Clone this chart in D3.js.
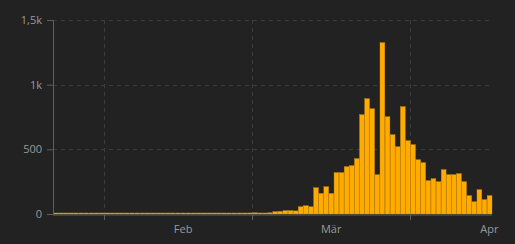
<!DOCTYPE html>
<html>
<head>
<meta charset="utf-8">
<script src="https://cdn.jsdelivr.net/npm/d3@7"></script>
<style>
  html, body { margin: 0; padding: 0; background: #222222; }
  svg { display: block; }
  text { font-family: "Open Sans", sans-serif; }
</style>
</head>
<body>
<svg id="chart"></svg>
<script>
// daily values, one per day starting at startDate
const startDate = new Date(Date.UTC(2020, 0, 22));
const dailyValues = [
    0, 0, 0, 0, 0, 0, 0, 0, 0, 0,
    0, 0, 0, 0, 0, 0, 0, 0, 0, 0,
    0, 0, 0, 0, 0, 0, 0, 0, 0, 0,
    0, 0, 0, 0, 2, 0, 1, 2, 8, 9,
    8, 2, 9, 18, 20, 26, 26, 24, 56, 64,
    56, 203, 159, 211, 159, 320, 320, 366, 374, 428,
    768, 892, 814, 304, 1325, 752, 613, 520, 830, 567,
    536, 420, 397, 258, 273, 250, 343, 304, 304, 312,
    250, 142, 95, 188, 111, 142
];
const yTicks = [0, 500, 1000, 1500];
const monthStarts = ["2020-02-01", "2020-03-01", "2020-04-01"];
const monthLabels = ["Feb", "Mär", "Apr"];

const width = 515, height = 244;
const margin = {top: 20, right: 23, bottom: 30, left: 53};

const data = dailyValues.map((v, i) => ({
    date: d3.utcDay.offset(startDate, i),
    value: v
}));
const endDate = d3.utcDay.offset(startDate, dailyValues.length);

const svg = d3.select("#chart")
    .attr("width", width)
    .attr("height", height);

const x = d3.scaleUtc()
    .domain([startDate, endDate])
    .range([margin.left, width - margin.right]);

const y = d3.scaleLinear()
    .domain([0, 1500])
    .range([height - margin.bottom, margin.top]);

const gridColor = "#3c3c3c";
const axisColor = "#5e5e5e";
const textColor = "#9a9a9a";

// horizontal grid
svg.append("g")
    .selectAll("line")
    .data(yTicks.filter(d => d > 0))
    .enter().append("line")
    .attr("x1", margin.left)
    .attr("x2", width - margin.right)
    .attr("y1", d => Math.round(y(d)) + 0.5)
    .attr("y2", d => Math.round(y(d)) + 0.5)
    .style("stroke", gridColor)
    .style("stroke-dasharray", "4,4");

// vertical grid at month starts
const monthDates = monthStarts.map(s => new Date(s + "T00:00:00Z"));
svg.append("g")
    .selectAll("line")
    .data(monthDates)
    .enter().append("line")
    .attr("x1", d => Math.round(x(d)) + 0.5)
    .attr("x2", d => Math.round(x(d)) + 0.5)
    .attr("y1", margin.top)
    .attr("y2", height - margin.bottom)
    .style("stroke", gridColor)
    .style("stroke-dasharray", "4,4");

// bars (keep at least 1px so empty days still show on the baseline)
svg.append("g")
    .selectAll("rect")
    .data(data)
    .enter().append("rect")
    .attr("x", d => x(d.date) + 0.3)
    .attr("width", d => x(d3.utcDay.offset(d.date, 1)) - x(d.date) - 0.3)
    .attr("y", d => Math.min(y(d.value), y(0) - 1))
    .attr("height", d => Math.max(1, y(0) - y(d.value)))
    .style("fill", "#ffab00")
    .style("stroke", "#d18c00")
    .style("stroke-width", 0.4);

// y axis
const yAxis = svg.append("g")
    .attr("transform", `translate(${margin.left},0)`)
    .call(d3.axisLeft(y)
        .tickValues(yTicks)
        .tickSize(6)
        .tickPadding(5)
        .tickFormat(d => d >= 1000 ? String(d / 1000).replace(".", ",") + "k" : d));
yAxis.select(".domain").style("stroke", axisColor);
yAxis.selectAll(".tick line").style("stroke", axisColor);
yAxis.selectAll("text").style("fill", textColor).style("font-size", "11px");

// x axis: ticks at month starts, labels centred in the month
const xAxis = svg.append("g")
    .attr("transform", `translate(0,${height - margin.bottom + 1})`);
xAxis.append("line")
    .attr("x1", margin.left)
    .attr("x2", width - margin.right)
    .style("stroke", axisColor);
xAxis.selectAll(".tick")
    .data(monthDates)
    .enter().append("line")
    .attr("x1", d => Math.round(x(d)) + 0.5)
    .attr("x2", d => Math.round(x(d)) + 0.5)
    .attr("y1", 0)
    .attr("y2", 5)
    .style("stroke", axisColor);
xAxis.selectAll("text")
    .data(monthDates)
    .enter().append("text")
    .attr("x", d => x(d3.utcHour.offset(d, 15 * 24 + 12)))
    .attr("y", 18)
    .attr("text-anchor", "middle")
    .style("fill", textColor)
    .style("font-size", "11px")
    .text((d, i) => monthLabels[i]);
</script>
</body>
</html>
